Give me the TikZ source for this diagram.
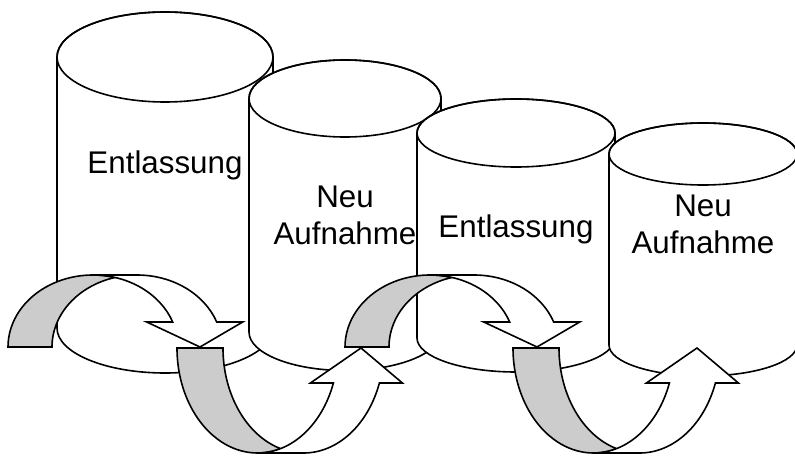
\documentclass[tikz,border=0pt]{standalone}
\usepackage{fontspec}
\setmainfont{Liberation Sans}
\begin{document}
\begin{tikzpicture}[x=0.75pt,y=-0.75pt,line width=1.2pt,
		can/.style={draw,fill=white},
		arrowfront/.style={draw,fill=white},
		arrowback/.style={draw,fill=gray1},
		cantext/.style={font=\fontsize{23.5}{27.75}\selectfont,align=center,inner sep=0pt}]
		\definecolor{gray1}{HTML}{CCCCCC}
		\useasboundingbox (0,0) rectangle (795,456);
		\clip (0,0) rectangle (795,456);
		% Zylinder, jeder vor dem vorigen
		\foreach \cx/\ct/\cb/\rx/\ry/\ty/\txt [count=\i] in {
				165/57/328/108/45/165/Entlassung,
				345/98.5/332/96/38.5/215.3/{Neu\\Aufnahme},
				516/133/338/99/34/229/Entlassung,
				703/154/345/94/31/224.8/{Neu\\Aufnahme}}{
				\draw[can] (\cx-\rx,\ct) -- (\cx-\rx,\cb)
				arc[start angle=180,end angle=0,x radius=\rx,y radius=\ry]
				-- (\cx+\rx,\ct)
				arc[start angle=0,end angle=-180,x radius=\rx,y radius=\ry] -- cycle;
				\draw (\cx,\ct) ellipse[x radius=\rx,y radius=\ry];
				\node[cantext] (txt\i) at (\cx,\ty) {\txt};
			}
		% Pfeile nach unten
		\foreach \dx in {0,337}{
				\begin{scope}[shift={(\dx,0)}]
					\draw[arrowback] (8,347) arc[start angle=180,end angle=285,x radius=85,y radius=72]
					arc[start angle=255,end angle=180,x radius=85,y radius=72] -- cycle;
					\draw[arrowfront] (200,347) -- (146.7,322) -- ++(26,0)
					arc[start angle=339.68,end angle=270,x radius=85,y radius=72] -- ++(44,0)
					arc[start angle=270,end angle=339.68,x radius=85,y radius=72] -- ++(26,0) -- cycle;
				\end{scope}
			}
		% Pfeile nach oben
		\foreach \dx in {0,336}{
				\begin{scope}[shift={(\dx,0)}]
					\draw[arrowback] (177,348) arc[start angle=180,end angle=73.4,x radius=80.5,y radius=105]
					arc[start angle=106.6,end angle=180,x radius=80.5,y radius=105] -- cycle;
					\draw[arrowfront] (361,348) -- (310.4,383) -- ++(23,0)
					arc[start angle=19.47,end angle=90,x radius=80.5,y radius=105] -- ++(46,0)
					arc[start angle=90,end angle=19.47,x radius=80.5,y radius=105] -- ++(23,0) -- cycle;
				\end{scope}
			}
	\end{tikzpicture}
\end{document}
